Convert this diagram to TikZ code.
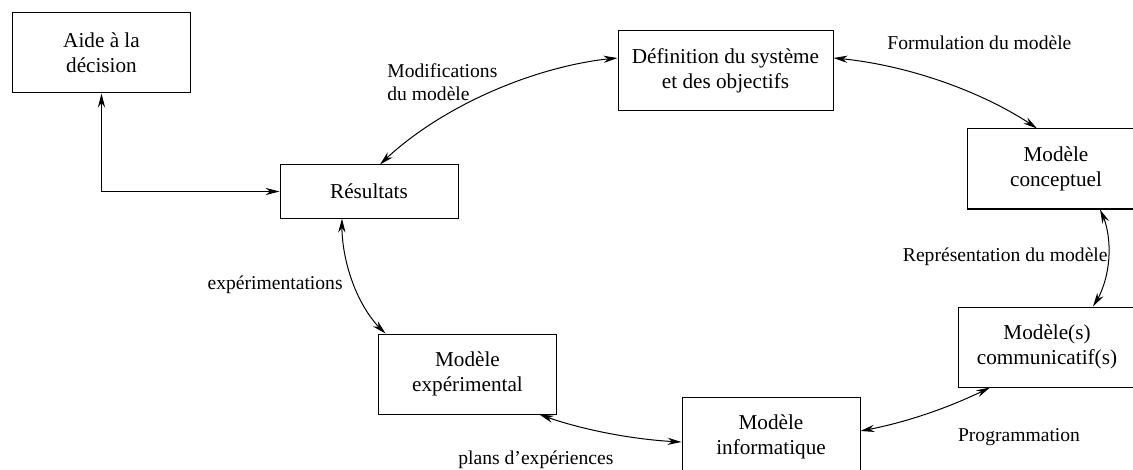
\documentclass[tikz,border=0pt]{standalone}
\usepackage{fontspec}
\setmainfont{Liberation Serif}
\usepackage{tikz}
\usetikzlibrary{arrows.meta, bending, positioning}
\tikzset{x=0.5pt,y=-0.5pt, >={Stealth[length=7pt,width=3.6pt]}}

\begin{document}
\begin{tikzpicture}
% Style
[
    line cap=round,
    stage/.style={draw, line width=0.5pt, align=center, inner sep=0pt,
        font={\fontsize{10.6}{12.5}\selectfont},
        minimum width=89pt, minimum height=40pt},
    link/.style={<->, line width=0.5pt},
    link text/.style={inner sep=0pt, align=left,
        font={\fontsize{9.8}{11.5}\selectfont}}
]

%=================================== Start ===================================
{
    % Define: Frame
    \useasboundingbox (0,0) rectangle (1133,470);

    % Draw: Stages
    \node [stage] (aide)    at (101.5,53)  {Aide à la\\décision};
    \node [stage, minimum height=26.5pt] (res) at (369,191.5) {Résultats};
    \node [stage, minimum width=107.5pt] (defn) at (725.5,71)
        {Définition du système\\et des objectifs};
    \node [stage] (concept) at (1056,169)  {Modèle\\conceptuel};
    \node [stage] (comm)    at (1047,347)  {Modèle(s)\\communicatif(s)};
    \node [stage] (info)    at (771,437)   {Modèle\\informatique};
    \node [stage] (exper)   at (467.5,374) {Modèle\\expérimental};

    % Draw: Links
    \draw [link] (aide.south) |- (res.west);
    \draw [link] ([xshift=5.5pt]res.north)
        .. controls (440,105) and (540,64) .. ([yshift=6.5pt]defn.west);
    \draw [link] ([yshift=6.5pt]defn.east)
        .. controls (910,64) and (990,95) .. ([xshift=-9.5pt]concept.north);
    \draw [link] ([xshift=22pt]concept.south)
        .. controls (1114,235) and (1112,280) .. ([xshift=23pt]comm.north);
    \draw [link] ([xshift=-28.5pt]comm.south)
        .. controls (945,410) and (900,424) .. ([yshift=3pt]info.east);
    \draw [link] ([xshift=36pt]exper.south)
        .. controls (575,428) and (630,440) .. ([yshift=-2.5pt]info.west);
    \draw [link] ([xshift=-13.5pt]res.south)
        .. controls (340,260) and (358,310) .. ([xshift=-41pt]exper.north);

    % Draw: Link labels
    \node [link text, anchor=west] (modif) at (387,82) {Modifications\\du modèle};
    \node [link text, anchor=west] (formul) at (887,43) {Formulation du modèle};
    \node [link text, anchor=east] (repr) at (1108,257) {Représentation du modèle};
    \node [link text] (prog) at (1019,437) {Programmation};
    \node [link text, anchor=west] (plans) at (458,460) {plans d’expériences};
    \node [link text, anchor=east] (expe) at (343,285) {expérimentations};
}
%==================================== END ====================================
\end{tikzpicture}
\end{document}
